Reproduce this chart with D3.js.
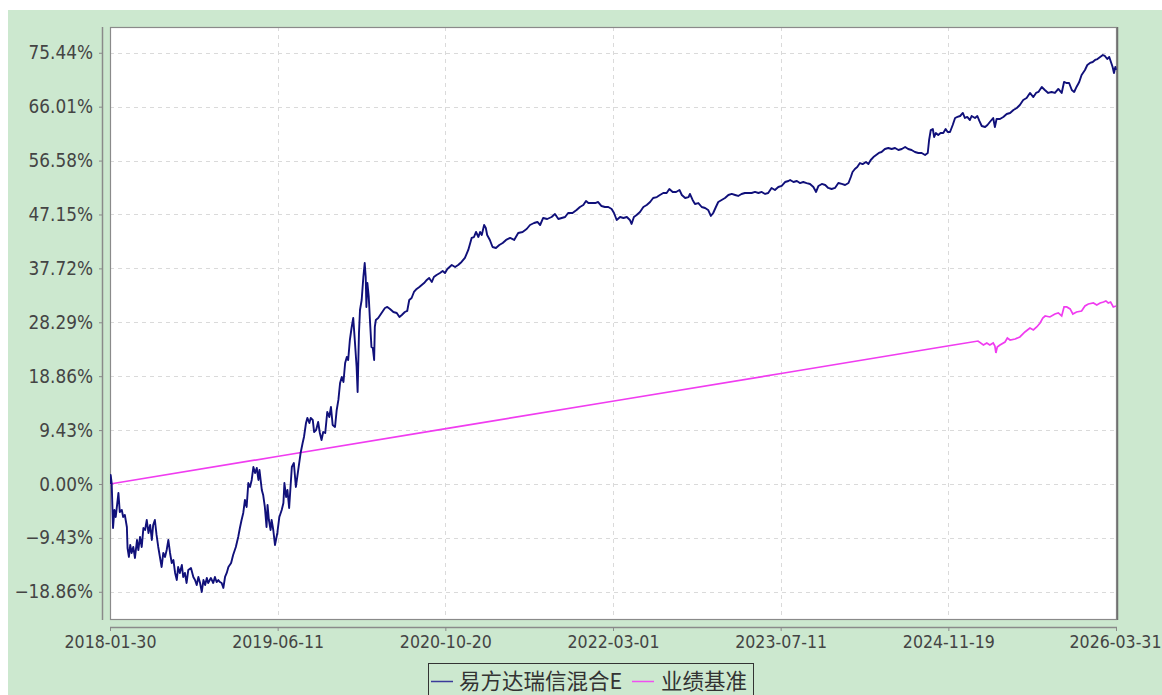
<!DOCTYPE html>
<html>
<head>
<meta charset="utf-8">
<script src="https://cdn.jsdelivr.net/npm/d3@7/dist/d3.min.js"></script>
<style>
html,body{margin:0;padding:0;background:#ffffff;}
svg{display:block;}
</style>
</head>
<body>
<svg id="chart" width="1162" height="695"></svg>
<script>
// ---- data ----
const startDate = "2018-01-30";
const endDate = "2026-03-31";
const xTickLabels = ["2018-01-30","2019-06-11","2020-10-20","2022-03-01","2023-07-11","2024-11-19","2026-03-31"];
const yTickValues = [-18.86,-9.43,0,9.43,18.86,28.29,37.72,47.15,56.58,66.01,75.44];
const seriesNames = ["易方达瑞信混合E","业绩基准"];

// days since start date, cumulative return (%)
const navDays = [0,2,5,9,13,17,25,29,35,39,44,50,52,56,60,64,69,74,80,84,89,94,99,104,109,114,119,124,128,133,138,143,148,153,158,163,168,173,178,183,188,193,198,202,207,213,217,222,227,232,240,247,252,257,262,267,272,277,282,287,291,299,306,311,316,321,326,331,336,341,346,351,359,365,373,380,385,390,395,400,405,410,415,420,425,430,435,440,443,450,454,459,464,467,471,476,479,484,489,496,502,509,514,517,522,526,531,539,545,551,558,565,571,575,581,585,591,595,601,605,611,617,622,627,632,638,644,650,655,660,667,672,677,682,687,692,697,702,706,711,716,721,726,731,734,738,741,746,751,755,758,760,763,767,771,775,779,783,785,788,795,805,815,822,830,840,850,858,865,874,881,887,894,901,909,917,924,931,939,946,954,960,968,978,986,993,1000,1013,1023,1032,1042,1052,1062,1072,1079,1085,1092,1097,1102,1109,1114,1118,1126,1134,1144,1154,1164,1174,1186,1198,1210,1223,1235,1245,1257,1267,1275,1284,1296,1309,1319,1329,1339,1349,1358,1371,1383,1393,1403,1411,1418,1428,1438,1447,1457,1467,1477,1487,1494,1502,1512,1522,1532,1541,1546,1553,1561,1571,1581,1591,1601,1610,1621,1630,1640,1650,1658,1668,1678,1688,1695,1705,1715,1719,1727,1734,1744,1754,1764,1773,1781,1788,1796,1803,1813,1823,1833,1843,1853,1862,1872,1882,1892,1902,1912,1922,1932,1942,1951,1961,1971,1981,1991,2001,2011,2016,2026,2036,2045,2055,2065,2075,2085,2093,2100,2110,2120,2129,2139,2149,2159,2169,2179,2189,2196,2201,2208,2215,2223,2231,2241,2248,2255,2263,2271,2279,2287,2297,2307,2317,2327,2337,2347,2357,2366,2376,2386,2396,2406,2416,2424,2428,2433,2439,2443,2448,2455,2462,2470,2477,2483,2490,2498,2505,2512,2520,2528,2534,2541,2549,2554,2564,2571,2577,2584,2594,2601,2608,2618,2623,2628,2638,2648,2658,2668,2678,2688,2697,2707,2717,2727,2737,2745,2752,2762,2771,2781,2791,2801,2811,2821,2828,2836,2843,2851,2858,2865,2873,2880,2890,2897,2905,2913,2920,2927,2935,2943,2949,2956,2962,2968,2972,2976,2980,2982];
const navValues = [0,1.57,0.17,-7.70,-4.55,-5.77,-1.57,-4.90,-4.55,-5.77,-5.42,-7.52,-11.20,-12.77,-10.67,-12.07,-11.02,-12.95,-9.80,-11.55,-9.27,-11.02,-7.70,-8.05,-6.30,-8.57,-7.17,-9.80,-7.17,-6.30,-8.92,-11.02,-12.77,-14.52,-12.07,-12.77,-11.55,-9.80,-12.07,-13.82,-13.30,-15.57,-16.80,-14.52,-15.57,-14.17,-16.27,-15.57,-17.32,-15.05,-14.70,-16.27,-16.80,-17.67,-16.27,-17.32,-18.89,-16.80,-17.67,-16.45,-17.32,-16.45,-17.32,-16.27,-17.15,-16.80,-17.15,-17.32,-18.19,-16.27,-15.57,-14.52,-13.82,-12.42,-11.02,-9.27,-7.70,-6.30,-5.07,-2.80,-4.02,0.17,-0.52,0.70,2.97,1.92,2.80,0.70,2.45,-1.05,-1.92,-4.02,-7.52,-3.67,-6.30,-8.05,-6.30,-8.05,-10.67,-8.57,-5.77,-4.55,-3.32,0.17,-2.27,-1.05,-4.20,2.97,3.67,-0.52,2.45,5.42,7.17,8.22,10.67,11.55,10.67,11.55,11.20,9.10,9.45,10.85,8.92,7.70,9.10,8.92,12.60,11.72,13.47,10.32,9.97,12.95,14.70,17.67,18.72,17.84,21.17,22.22,21.69,25.19,27.29,29.04,24.84,20.47,16.10,26.42,30.44,32.19,36.21,38.66,36.21,30.97,35.16,32.72,28.17,23.97,23.79,21.69,27.47,28.69,29.04,29.92,30.79,30.97,30.62,30.09,29.92,29.22,29.57,30.09,30.27,32.19,32.54,33.59,34.12,34.47,34.82,35.16,35.69,36.04,35.34,36.21,36.57,36.91,37.26,36.91,37.61,38.31,37.96,38.31,38.84,39.54,40.94,43.04,43.21,44.09,43.21,44.09,43.56,45.31,44.79,43.56,42.69,41.46,41.29,41.81,42.16,42.69,43.04,42.69,43.91,44.09,44.61,45.31,45.66,45.84,45.31,46.54,46.36,46.71,47.23,46.36,46.54,46.71,47.41,47.41,47.94,48.46,48.81,49.51,49.15,49.15,49.15,49.33,48.63,48.46,48.46,48.10,47.41,46.19,46.71,46.54,46.71,46.19,45.49,46.71,47.06,47.59,48.46,48.81,49.33,50.03,50.20,50.56,50.91,50.91,51.61,51.09,51.09,51.44,50.56,50.03,50.20,50.74,49.69,48.98,49.15,48.46,48.29,47.94,46.89,47.41,48.46,49.33,49.69,50.03,50.56,50.74,50.56,50.39,50.74,50.91,50.91,50.91,51.09,50.91,51.09,50.74,50.91,51.79,51.44,51.96,52.14,52.83,53.01,53.18,52.83,53.01,52.65,52.83,52.65,52.49,51.96,51.09,52.14,52.49,52.31,51.79,51.61,51.79,52.66,52.49,52.31,52.66,53.71,54.58,55.11,55.46,56.15,55.97,56.33,55.97,56.68,57.20,57.56,57.91,58.08,58.61,58.78,58.61,58.78,58.43,58.61,58.96,58.61,58.43,58.08,57.91,57.91,57.56,57.91,60.18,61.93,62.10,60.71,61.40,61.05,61.40,61.40,62.10,61.58,61.58,62.81,64.03,64.21,64.38,64.91,64.03,64.21,63.68,64.38,64.03,64.38,63.51,62.63,62.45,62.81,63.33,64.03,62.45,63.86,63.86,64.21,64.73,64.91,65.43,65.78,66.31,67.18,67.53,68.41,67.70,68.41,68.58,69.46,68.93,68.41,68.58,68.41,69.11,68.41,70.33,70.15,70.15,68.93,68.58,69.46,70.33,71.56,72.43,73.30,73.66,73.83,74.18,74.35,74.70,75.05,74.88,74.35,74.70,73.66,72.96,71.91,72.96,72.43];

const benchDays = [0,495,996,1494,1989,2487,2573,2589,2599,2608,2618,2623,2626,2630,2638,2653,2660,2668,2683,2697,2712,2727,2737,2747,2757,2765,2772,2786,2801,2811,2821,2828,2836,2846,2854,2865,2880,2890,2900,2915,2925,2935,2945,2952,2959,2966,2974,2982];
const benchValues = [0,4.81,9.68,14.52,19.33,24.18,25.01,24.32,24.67,24.32,24.67,24.14,22.92,23.97,24.32,24.84,25.54,25.19,25.37,25.72,26.59,27.29,26.94,27.47,28.17,29.04,29.39,29.22,29.74,29.92,29.39,30.97,30.97,30.62,29.74,30.09,30.27,31.14,31.49,31.67,31.32,31.67,31.84,32.02,31.67,31.84,30.97,31.14];

// ---- drawing ----
const svg = d3.select("#chart");
const W = 1162, H = 695;
const bg = "#cce8cf";
const plot = {left:110, right:1116, top:27, bottom:619};

svg.append("rect").attr("x",8).attr("y",10).attr("width",W-8).attr("height",H-10).attr("fill",bg);

const parse = d3.timeParse("%Y-%m-%d");
const t0 = parse(startDate), t1 = parse(endDate);
const x = d3.scaleTime().domain([t0,t1]).range([plot.left, plot.right]);
const y = d3.scaleLinear().domain([-23.62, 79.95]).range([plot.bottom, plot.top]);

// plot background
svg.append("rect").attr("x",plot.left).attr("y",plot.top)
  .attr("width",plot.right-plot.left).attr("height",plot.bottom-plot.top)
  .attr("fill","#ffffff");

const tickDates = xTickLabels.map(parse);

// grid
const grid = svg.append("g");
grid.selectAll("line.h").data(yTickValues).enter().append("line")
  .attr("x1",plot.left).attr("x2",plot.right)
  .attr("y1",d=>Math.round(y(d))+0.5).attr("y2",d=>Math.round(y(d))+0.5)
  .attr("stroke","#dadada").attr("stroke-dasharray","4,4");
grid.selectAll("line.v").data(tickDates.slice(1,-1)).enter().append("line")
  .attr("y1",plot.top).attr("y2",plot.bottom)
  .attr("x1",d=>Math.round(x(d))+0.5).attr("x2",d=>Math.round(x(d))+0.5)
  .attr("stroke","#dadada").attr("stroke-dasharray","4,4");

// plot border
svg.append("rect").attr("x",plot.left+0.5).attr("y",plot.top+0.5)
  .attr("width",plot.right-plot.left).attr("height",plot.bottom-plot.top)
  .attr("fill","none").attr("stroke","#8a8a8a").attr("stroke-width",1.2);
svg.append("line").attr("x1",plot.right+1.5).attr("x2",plot.right+1.5)
  .attr("y1",plot.top).attr("y2",plot.bottom+1).attr("stroke","#6f6f6f").attr("stroke-width",1.5);

const font = "'DejaVu Sans Condensed','DejaVu Sans',sans-serif";

// y axis
const yAxis = d3.axisLeft(y).tickValues(yTickValues).tickSize(4).tickPadding(6)
  .tickFormat(d=>d3.format(".2f")(d)+"%");
const gy = svg.append("g").attr("transform",`translate(${plot.left-7},0)`).call(yAxis);
gy.select(".domain").attr("d",`M-0.5,${plot.top}V${plot.bottom+1}`).attr("stroke","#8a8a8a").attr("stroke-width",1.5);
gy.selectAll(".tick line").attr("stroke","#8a8a8a");
gy.selectAll(".tick text").attr("font-family",font).attr("font-size",18.8).attr("fill","#444");

// x axis
const xAxis = d3.axisBottom(x).tickValues(tickDates).tickSize(4).tickPadding(5)
  .tickFormat((d,i)=>xTickLabels[i]);
const gx = svg.append("g").attr("transform",`translate(0,${plot.bottom+8})`).call(xAxis);
gx.select(".domain").attr("d",`M${plot.left},0.5H${plot.right+1}`).attr("stroke","#8a8a8a").attr("stroke-width",1.5);
gx.selectAll(".tick line").attr("stroke","#8a8a8a");
gx.selectAll(".tick text").attr("font-family",font).attr("font-size",17.6).attr("fill","#444");
// keep the last label inside the page edge
gx.selectAll(".tick text").filter((d,i)=>i===xTickLabels.length-1)
  .attr("text-anchor","end").attr("x",W-1-x(t1));

// lines
const toPts = (days, vals) => days.map((d,i)=>({date:d3.timeDay.offset(t0,d), v:vals[i]}));
const line = d3.line().x(d=>x(d.date)).y(d=>y(d.v));
const clip = svg.append("clipPath").attr("id","clip").append("rect")
  .attr("x",plot.left).attr("y",plot.top).attr("width",plot.right-plot.left+1).attr("height",plot.bottom-plot.top);
const lines = svg.append("g").attr("clip-path","url(#clip)");
lines.append("path").datum(toPts(benchDays,benchValues)).attr("d",line)
  .attr("fill","none").attr("stroke","#f03cf0").attr("stroke-width",1.7);
lines.append("path").datum(toPts(navDays,navValues)).attr("d",line)
  .attr("fill","none").attr("stroke","#10107a").attr("stroke-width",1.9).attr("stroke-linejoin","round");

// legend
const lg = svg.append("g");
lg.append("rect").attr("x",428.5).attr("y",663.5).attr("width",325).attr("height",40)
  .attr("fill",bg).attr("stroke","#333").attr("stroke-width",1);
const cjk = "'Noto Sans CJK SC','Noto Sans',sans-serif";
const items = [{name:seriesNames[0], color:"#3a3a9a", x0:431, tx:459},{name:seriesNames[1], color:"#f050f0", x0:632, tx:661}];
items.forEach(it=>{
  lg.append("line").attr("x1",it.x0).attr("x2",it.x0+22).attr("y1",681.5).attr("y2",681.5)
    .attr("stroke",it.color).attr("stroke-width",1.5);
  lg.append("text").attr("x",it.tx).attr("y",689).attr("font-family",cjk).attr("font-size",21.5)
    .attr("fill","#333").text(it.name);
});
</script>
</body>
</html>
